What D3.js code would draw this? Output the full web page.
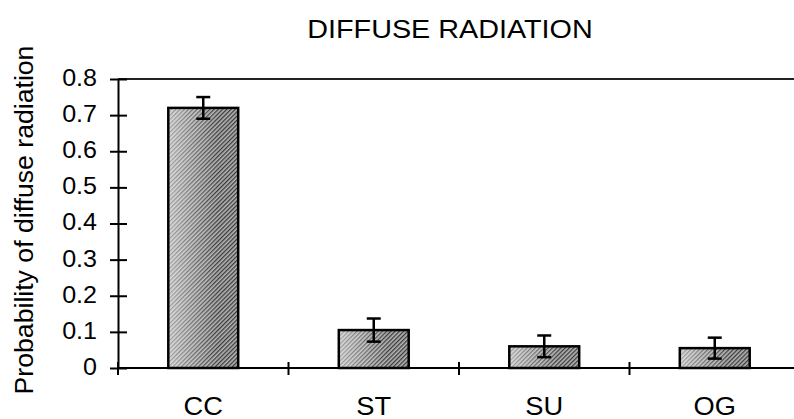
<!DOCTYPE html>
<html>
<head>
<meta charset="utf-8">
<script src="https://cdn.jsdelivr.net/npm/d3@7"></script>
<style>
  body { margin: 0; background: #fff; }
  svg text { font-family: "Liberation Sans", Arial, sans-serif; fill: #000; }
</style>
</head>
<body>
<div id="chart"></div>
<script>
    "use strict";

    var categories = ["CC", "ST", "SU", "OG"];
    var values = [0.72, 0.105, 0.06, 0.055];
    var errors = [0.03, 0.032, 0.03, 0.029];
    var yTicks = [0, 0.1, 0.2, 0.3, 0.4, 0.5, 0.6, 0.7, 0.8];

    var width = 794,
        height = 419;

    var margin = {left: 118, top: 79, right: -6, bottom: 51};

    var svg = d3.select("#chart").append("svg")
        .attr("width", width)
        .attr("height", height);

    // the scan is a bit wider than the font, stretch text to match
    function stretch(sel, k) {
        sel.each(function () {
            var w = this.getComputedTextLength();
            d3.select(this)
                .attr("textLength", w * k)
                .attr("lengthAdjust", "spacingAndGlyphs");
        });
    }

    // hatched grey fill like the scanned original
    var defs = svg.append("defs");
    var pat = defs.append("pattern")
        .attr("id", "hatch")
        .attr("patternUnits", "userSpaceOnUse")
        .attr("width", 3)
        .attr("height", 3)
        .attr("patternTransform", "rotate(45)");
    pat.append("rect").attr("width", 3).attr("height", 3).attr("fill", "#b4b4b4");
    pat.append("rect").attr("width", 1.3).attr("height", 3).attr("fill", "#3a3a3a");

    var grad = defs.append("linearGradient")
        .attr("id", "fade")
        .attr("x1", 0).attr("x2", 1).attr("y1", 0).attr("y2", 0);
    grad.append("stop").attr("offset", "0%").attr("stop-color", "#fff").attr("stop-opacity", 0.55);
    grad.append("stop").attr("offset", "70%").attr("stop-color", "#fff").attr("stop-opacity", 0);

    var x = d3.scaleBand()
        .domain(categories)
        .range([margin.left, width - margin.right])
        .paddingInner(0.59)
        .paddingOuter(0.295);

    var y = d3.scaleLinear()
        .domain([0, 0.8])
        .range([height - margin.bottom, margin.top]);

    // top border of the plot
    svg.append("line")
        .attr("x1", margin.left).attr("x2", width)
        .attr("y1", y(0.8)).attr("y2", y(0.8))
        .attr("stroke", "#222")
        .attr("stroke-width", 2);

    var bars = svg.selectAll(".bar")
        .data(categories)
        .enter().append("g")
        .attr("class", "bar");

    bars.append("rect")
        .attr("x", function (d) { return x(d); })
        .attr("y", function (d, i) { return y(values[i]); })
        .attr("width", x.bandwidth())
        .attr("height", function (d, i) { return y(0) - y(values[i]); })
        .attr("fill", "url(#hatch)");

    bars.append("rect")
        .attr("x", function (d) { return x(d); })
        .attr("y", function (d, i) { return y(values[i]); })
        .attr("width", x.bandwidth())
        .attr("height", function (d, i) { return y(0) - y(values[i]); })
        .attr("fill", "url(#fade)")
        .attr("stroke", "#000")
        .attr("stroke-width", 2.5);

    // error bars
    var eb = bars.append("g")
        .attr("stroke", "#000")
        .attr("stroke-width", 2.5);
    eb.append("line")
        .attr("x1", function (d) { return x(d) + x.bandwidth() / 2; })
        .attr("x2", function (d) { return x(d) + x.bandwidth() / 2; })
        .attr("y1", function (d, i) { return y(values[i] + errors[i]); })
        .attr("y2", function (d, i) { return y(values[i] - errors[i]); });
    eb.selectAll(".cap")
        .data(function (d, i) { return [[d, values[i] + errors[i]], [d, values[i] - errors[i]]]; })
        .enter().append("line")
        .attr("x1", function (d) { return x(d[0]) + x.bandwidth() / 2 - 7; })
        .attr("x2", function (d) { return x(d[0]) + x.bandwidth() / 2 + 7; })
        .attr("y1", function (d) { return y(d[1]); })
        .attr("y2", function (d) { return y(d[1]); });

    // y axis with crossing ticks
    var yAxis = svg.append("g")
        .attr("transform", "translate(" + margin.left + ",0)")
        .call(d3.axisLeft(y).tickValues(yTicks).tickSizeInner(8).tickSizeOuter(0)
            .tickFormat(function (d) { return d === 0 ? "0" : d3.format(".1f")(d); }));
    yAxis.select(".domain").attr("stroke", "#000").attr("stroke-width", 2);
    yAxis.selectAll(".tick line").attr("x2", 9).attr("x1", -8).attr("stroke-width", 2);
    yAxis.selectAll(".tick text")
        .attr("x", -21)
        .attr("dy", "0.28em")
        .style("font-size", "23px")
        .call(stretch, 1.09);

    // x axis, ticks between categories
    var xAxisG = svg.append("g")
        .attr("transform", "translate(0," + y(0) + ")");
    xAxisG.append("line")
        .attr("x1", margin.left).attr("x2", width)
        .attr("stroke", "#000").attr("stroke-width", 2);
    var step = x.step();
    var bounds = categories.map(function (d) { return x(d) - (step - x.bandwidth()) / 2; });
    xAxisG.selectAll(".xt")
        .data(bounds)
        .enter().append("line")
        .attr("x1", function (d) { return d; })
        .attr("x2", function (d) { return d; })
        .attr("y1", -6).attr("y2", 7)
        .attr("stroke", "#000").attr("stroke-width", 2);
    xAxisG.selectAll(".xl")
        .data(categories)
        .enter().append("text")
        .attr("x", function (d) { return x(d) + x.bandwidth() / 2; })
        .attr("y", 47)
        .attr("text-anchor", "middle")
        .style("font-size", "25px")
        .text(function (d) { return d; })
        .call(stretch, 1.09);

    svg.append("text")
        .attr("transform", "translate(33,220) rotate(-90)")
        .attr("text-anchor", "middle")
        .style("font-size", "25px")
        .text("Probability of diffuse radiation")
        .call(stretch, 1.065);

    svg.append("text")
        .attr("x", 450)
        .attr("y", 38)
        .attr("text-anchor", "middle")
        .style("font-size", "25px")
        .text("DIFFUSE RADIATION")
        .call(stretch, 1.15);
</script>
</body>
</html>
